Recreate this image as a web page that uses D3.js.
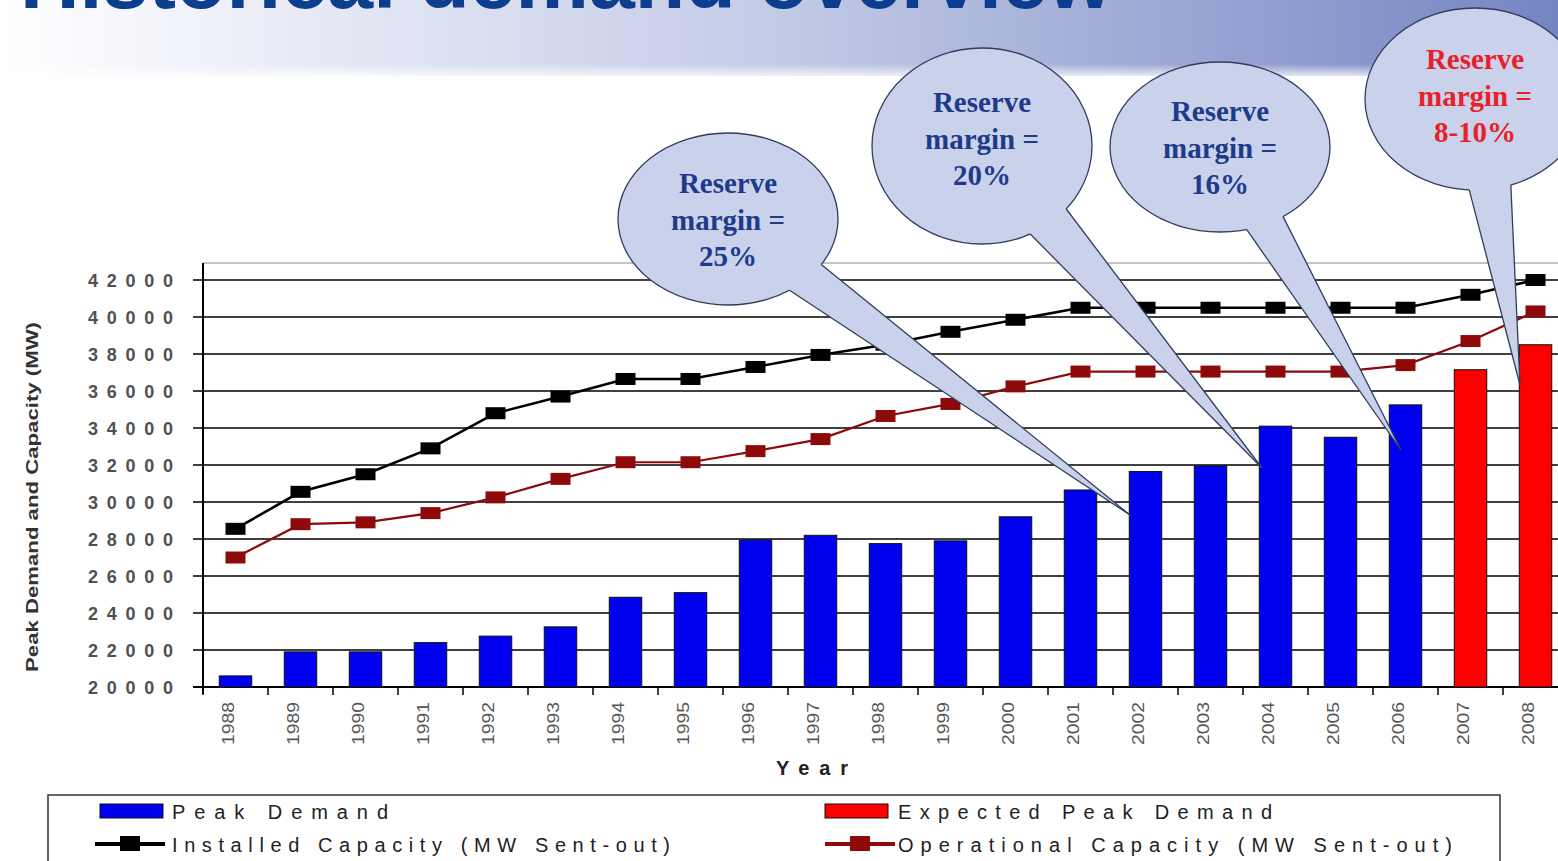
<!DOCTYPE html>
<html>
<head>
<meta charset="utf-8">
<script src="https://cdn.jsdelivr.net/npm/d3@7"></script>
<style>
  html, body { margin: 0; padding: 0; background: #fff; overflow: hidden; }
  text { font-family: "Liberation Sans", Arial, sans-serif; }
</style>
</head>
<body>
<svg id="chart" width="1558" height="861"></svg>
<script>
// data
const years = [1988, 1989, 1990, 1991, 1992, 1993, 1994, 1995, 1996, 1997, 1998,
               1999, 2000, 2001, 2002, 2003, 2004, 2005, 2006, 2007, 2008];
const peakDemand = [20600, 21900, 21900, 22400, 22750, 23250, 24850, 25100, 27950, 28200, 27750,
                    27900, 29200, 30650, 31650, 31950, 34100, 33500, 35250, 37150, 38500];
const expectedYears = [2007, 2008];
const installedCapacity = [28550, 30550, 31500, 32900, 34800, 35700, 36650, 36650, 37300, 37950, 38500,
                           39200, 39850, 40500, 40500, 40500, 40500, 40500, 40500, 41200, 42000];
const operationalCapacity = [27000, 28800, 28900, 29400, 30250, 31250, 32150, 32150, 32750, 33400, 34650,
                             35300, 36250, 37050, 37050, 37050, 37050, 37050, 37400, 38700, 40300];
const yTicks = [20000, 22000, 24000, 26000, 28000, 30000, 32000, 34000, 36000, 38000, 40000, 42000];
const calloutTexts = [
  ["Reserve", "margin =", "25%"],
  ["Reserve", "margin =", "20%"],
  ["Reserve", "margin =", "16%"],
  ["Reserve", "margin =", "8-10%"]
];
const legendLabels = ["Peak Demand", "Expected Peak Demand",
                      "Installed Capacity (MW Sent-out)", "Operational Capacity (MW Sent-out)"];
const titleText = "Historical demand overview";
const yTitle = "Peak Demand and Capacity (MW)";
const xTitle = "Year";

// colours
const blue = "#0000f0", red = "#ff0000", black = "#000", darkRed = "#8e0a0a";

const svg = d3.select("#chart");

// banner
const defs = svg.append("defs");
const grad = defs.append("linearGradient").attr("id", "banner").attr("x1", 0).attr("x2", 1);
grad.append("stop").attr("offset", 0).attr("stop-color", "#ffffff");
grad.append("stop").attr("offset", 0.03).attr("stop-color", "#fbfcfe");
grad.append("stop").attr("offset", 0.5).attr("stop-color", "#c2cae6");
grad.append("stop").attr("offset", 1).attr("stop-color", "#7585c2");
const fade = defs.append("linearGradient").attr("id", "fade").attr("x1", 0).attr("x2", 0).attr("y1", 0).attr("y2", 1);
fade.append("stop").attr("offset", 0).attr("stop-color", "#fff").attr("stop-opacity", 0);
fade.append("stop").attr("offset", 1).attr("stop-color", "#fff").attr("stop-opacity", 1);

svg.append("rect").attr("x", 0).attr("y", 0).attr("width", 1558).attr("height", 76).attr("fill", "url(#banner)");
svg.append("rect").attr("x", 0).attr("y", 64).attr("width", 1558).attr("height", 16).attr("fill", "url(#fade)");

// title sits mostly above the top edge, as in the slide
svg.append("text")
  .attr("x", 20).attr("y", 8)
  .attr("font-size", 84).attr("font-weight", "bold")
  .attr("fill", "#0d3d8f")
  .attr("textLength", 1092).attr("lengthAdjust", "spacingAndGlyphs")
  .text(titleText);

// scales
const x = d3.scaleBand().domain(years).range([203, 1568]).paddingInner(0.5).paddingOuter(0.25);
const y = d3.scaleLinear().domain([20000, 42000]).range([687, 280]);
const step = x.step(), bw = x.bandwidth();
const cx = d => x(d) + bw / 2;

// grid
svg.append("line").attr("x1", 203).attr("x2", 1568).attr("y1", 263).attr("y2", 263)
  .attr("stroke", "#888").attr("stroke-width", 1);

svg.append("g").selectAll("line").data(yTicks).join("line")
  .attr("x1", 193).attr("x2", 1568)
  .attr("y1", d => y(d)).attr("y2", d => y(d))
  .attr("stroke", "#000").attr("stroke-width", 1.6);

// y axis
const yAxis = svg.append("g").attr("transform", "translate(203,0)")
  .call(d3.axisLeft(y).tickValues(yTicks).tickSize(0).tickFormat(d3.format("d")));
yAxis.select(".domain").remove();
yAxis.selectAll("text")
  .attr("x", -115).attr("dy", "0.36em")
  .attr("text-anchor", "start")
  .attr("font-size", 18).attr("font-weight", "bold")
  .attr("fill", "#505050")
  .attr("textLength", 85).attr("lengthAdjust", "spacing")
  .style("font-family", "'Liberation Sans', Arial, sans-serif");

svg.append("line").attr("x1", 203).attr("x2", 203).attr("y1", 263).attr("y2", 694)
  .attr("stroke", "#000").attr("stroke-width", 2);

// x axis
const xAxis = svg.append("g").attr("transform", "translate(0,687)")
  .call(d3.axisBottom(x).tickSize(0));
xAxis.select(".domain").remove();
xAxis.selectAll(".tick text")
  .attr("transform", "rotate(-90)")
  .attr("x", -15).attr("y", -1.5).attr("dy", 0)
  .attr("text-anchor", "end")
  .attr("font-size", 16)
  .attr("fill", "#555")
  .attr("textLength", 43).attr("lengthAdjust", "spacingAndGlyphs")
  .style("font-family", "'Liberation Sans', Arial, sans-serif");

svg.append("line").attr("x1", 193).attr("x2", 1568).attr("y1", 687).attr("y2", 687)
  .attr("stroke", "#000").attr("stroke-width", 2);
svg.append("g").selectAll("line").data(years).join("line")
  .attr("x1", d => x(d) - (step - bw) / 2).attr("x2", d => x(d) - (step - bw) / 2)
  .attr("y1", 687).attr("y2", 695)
  .attr("stroke", "#000").attr("stroke-width", 1.5);

// bars
svg.append("g").selectAll("rect").data(years).join("rect")
  .attr("x", d => x(d))
  .attr("y", (d, i) => y(peakDemand[i]))
  .attr("width", bw)
  .attr("height", (d, i) => y(20000) - y(peakDemand[i]))
  .attr("fill", d => expectedYears.includes(d) ? red : blue)
  .attr("stroke", "#111").attr("stroke-width", 1);

// lines
function drawSeries(values, color, width) {
  const line = d3.line().x((d, i) => cx(years[i])).y(d => y(d));
  svg.append("path").datum(values)
    .attr("d", line).attr("fill", "none")
    .attr("stroke", color).attr("stroke-width", width);
  svg.append("g").selectAll("rect").data(values).join("rect")
    .attr("x", (d, i) => cx(years[i]) - 10)
    .attr("y", d => y(d) - 6)
    .attr("width", 20).attr("height", 12)
    .attr("fill", color);
}
drawSeries(operationalCapacity, darkRed, 2.2);
drawSeries(installedCapacity, black, 2.6);

// axis titles
svg.append("text")
  .attr("transform", "translate(38,497) rotate(-90)")
  .attr("text-anchor", "middle")
  .attr("font-size", 17).attr("font-weight", "bold").attr("fill", "#333")
  .attr("textLength", 350).attr("lengthAdjust", "spacingAndGlyphs")
  .text(yTitle);

svg.append("text")
  .attr("x", 776).attr("y", 775)
  .attr("font-size", 20).attr("font-weight", "bold").attr("fill", "#222")
  .attr("textLength", 72).attr("lengthAdjust", "spacing")
  .text(xTitle);

// callouts
const calloutLayout = [
  { cx: 728, cy: 219, rx: 110, ry: 86, a1: 32, a2: 56, tip: [1130, 515], ty: 193, color: "#1f3a8a" },
  { cx: 982, cy: 146, rx: 110, ry: 98, a1: 40, a2: 64, tip: [1262, 468], ty: 112, color: "#1f3a8a" },
  { cx: 1220, cy: 147, rx: 110, ry: 85, a1: 55, a2: 76, tip: [1401, 450], ty: 121, color: "#1f3a8a" },
  { cx: 1475, cy: 99, rx: 110, ry: 91, a1: 71, a2: 93, tip: [1520, 385], ty: 69, color: "#e8202a" }
];
const calloutFill = "#c9d2ea", calloutStroke = "#2f3d5e";

calloutLayout.forEach((c, k) => {
  const g = svg.append("g");
  const pt = a => [c.cx + c.rx * Math.cos(a * Math.PI / 180), c.cy + c.ry * Math.sin(a * Math.PI / 180)];
  const b1 = pt(c.a1), b2 = pt(c.a2);
  g.append("ellipse")
    .attr("cx", c.cx).attr("cy", c.cy).attr("rx", c.rx).attr("ry", c.ry)
    .attr("fill", calloutFill).attr("stroke", calloutStroke).attr("stroke-width", 1.3);
  g.append("path")
    .attr("d", `M${c.cx},${c.cy}L${b1[0]},${b1[1]}L${c.tip[0]},${c.tip[1]}L${b2[0]},${b2[1]}Z`)
    .attr("fill", calloutFill);
  [b1, b2].forEach(b => {
    g.append("line").attr("x1", b[0]).attr("y1", b[1]).attr("x2", c.tip[0]).attr("y2", c.tip[1])
      .attr("stroke", calloutStroke).attr("stroke-width", 1.3);
  });
  g.selectAll("text").data(calloutTexts[k]).join("text")
    .attr("x", c.cx).attr("y", (d, i) => c.ty + i * 36.5)
    .attr("text-anchor", "middle")
    .attr("font-size", 29).attr("font-weight", "bold")
    .attr("fill", c.color)
    .style("font-family", "'Liberation Serif', 'Times New Roman', serif")
    .text(d => d);
});

// legend
const lg = svg.append("g");
lg.append("rect").attr("x", 48).attr("y", 795).attr("width", 1452).attr("height", 90)
  .attr("fill", "#fff").attr("stroke", "#333").attr("stroke-width", 1.5);

const legendItems = [
  { kind: "bar", color: blue, x: 100, tx: 172, row: 0, len: 216 },
  { kind: "bar", color: red, x: 825, tx: 898, row: 0, len: 374 },
  { kind: "line", color: black, x: 95, tx: 172, row: 1, len: 498 },
  { kind: "line", color: darkRed, x: 825, tx: 898, row: 1, len: 554 }
];
legendItems.forEach((it, i) => {
  const yc = it.row === 0 ? 811 : 844;
  if (it.kind === "bar") {
    lg.append("rect").attr("x", it.x).attr("y", yc - 7).attr("width", 63).attr("height", 14)
      .attr("fill", it.color).attr("stroke", "#111").attr("stroke-width", 1);
  } else {
    lg.append("line").attr("x1", it.x).attr("x2", it.x + 70).attr("y1", yc).attr("y2", yc)
      .attr("stroke", it.color).attr("stroke-width", 4);
    lg.append("rect").attr("x", it.x + 25).attr("y", yc - 8).attr("width", 20).attr("height", 15)
      .attr("fill", it.color);
  }
  lg.append("text")
    .attr("x", it.tx).attr("y", yc + 8)
    .attr("font-size", 20).attr("fill", "#222")
    .attr("textLength", it.len).attr("lengthAdjust", "spacing")
    .text(legendLabels[i]);
});
</script>
</body>
</html>
